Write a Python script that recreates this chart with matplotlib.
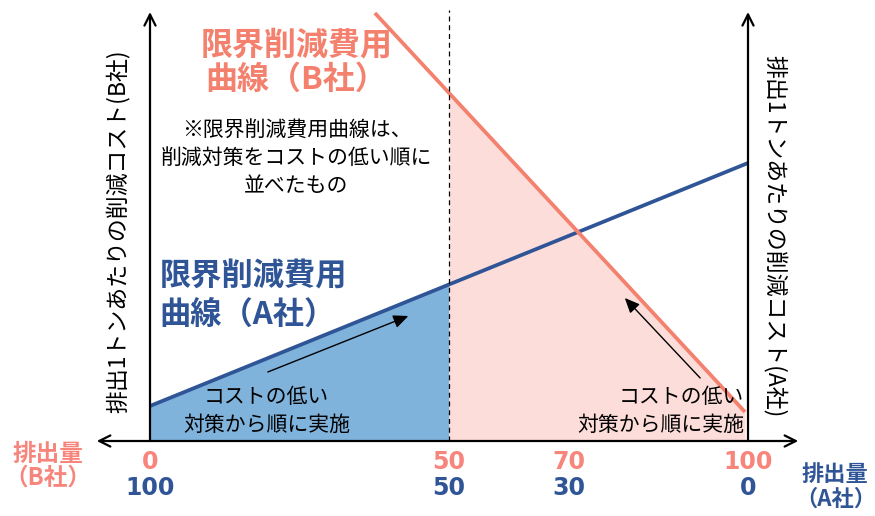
import numpy as np
import matplotlib
matplotlib.use("Agg")
import matplotlib.pyplot as plt

plt.rcParams['font.family'] = ['Noto Sans CJK JP', 'DejaVu Sans']

# 排出量(B社) 0-100 を横軸に取る
blue_x = [0, 100]          # A社の限界削減費用曲線
blue_y = [35, 278]
red_x = [37.6, 99.5]       # B社の限界削減費用曲線
red_y = [428, 29]
split_x = 50               # 各社の排出量の配分点

b_ticks = [0, 50, 70, 100]
b_labels = ['0', '50', '70', '100']
a_labels = ['100', '50', '30', '0']

RED = '#F4806E'
RED_TXT = '#F7857C'
PINK = '#FCDDD9'
BLUE = '#2F5597'
LBLUE = '#7FB3DC'

fig = plt.figure(figsize=(8.75, 5.16), dpi=100)
ax = fig.add_axes([0, 0, 1, 1])
ax.set_xlim(-150 / 5.98, 725 / 5.98)
ax.set_ylim(-75, 441)
ax.axis('off')

# 塗りつぶし
xs = np.linspace(0, split_x, 50)
ax.fill_between(xs, 0, np.interp(xs, blue_x, blue_y), color=LBLUE, lw=0)
xr = np.linspace(split_x, red_x[1], 50)
ax.fill_between(xr, 0, np.interp(xr, red_x, red_y), color=PINK, lw=0)

ax.plot(blue_x, blue_y, color=BLUE, lw=2.7, solid_capstyle='butt')
ax.plot(red_x, red_y, color=RED, lw=2.7, solid_capstyle='butt')
ax.plot([split_x, split_x], [0, 431], color='black', lw=0.9, ls=(0, (4, 3)))

# 軸
arrow = dict(arrowstyle='->,head_length=0.8,head_width=0.4', color='black', lw=1.6,
             shrinkA=0, shrinkB=0)
ax.annotate('', xy=(0, 429), xytext=(0, 0), arrowprops=arrow)
ax.annotate('', xy=(100, 429), xytext=(100, 0), arrowprops=arrow)
ax.annotate('', xy=(108.4, 0), xytext=(-8.9, 0),
            arrowprops=dict(arrowstyle='<->,head_length=0.8,head_width=0.4',
                            color='black', lw=1.6, shrinkA=0, shrinkB=0))

for x, lb_b, lb_a in zip(b_ticks, b_labels, a_labels):
    ax.text(x, -21, lb_b, color=RED_TXT, fontsize=17, fontweight='bold',
            ha='center', va='center', family='DejaVu Sans')
    ax.text(x, -47, lb_a, color=BLUE, fontsize=17, fontweight='bold',
            ha='center', va='center', family='DejaVu Sans')

ax.text(-17, -25, '排出量\n（B社）', color=RED_TXT, fontsize=17, fontweight='bold',
        ha='center', va='center', linespacing=1.0)
ax.text(114.6, -46, '排出量\n（A社）', color=BLUE, fontsize=16, fontweight='bold',
        ha='center', va='center', linespacing=1.1)

ax.text(-5.3, 210, '排出1トンあたりの削減コスト(B社)', rotation=90, fontsize=16.5,
        ha='center', va='center')
ax.text(104.5, 205, '排出1トンあたりの削減コスト(A社)', rotation=270, fontsize=16.5,
        ha='center', va='center')

ax.text(24.5, 378, '限界削減費用\n曲線（B社）', color=RED, fontsize=23, fontweight='bold',
        ha='center', va='center', linespacing=1.1)
ax.text(24.5, 283, '※限界削減費用曲線は、\n削減対策をコストの低い順に\n並べたもの',
        fontsize=15, ha='center', va='center', linespacing=1.38)
ax.text(1.6, 145, '限界削減費用\n曲線（A社）', color=BLUE, fontsize=22.5, fontweight='bold',
        ha='left', va='center', linespacing=1.25)

ax.text(19.5, 30, 'コストの低い\n対策から順に実施', fontsize=15, ha='center', va='center',
        linespacing=1.3)
ax.text(99.3, 30, 'コストの低い\n対策から順に実施', fontsize=15, ha='right', va='center',
        linespacing=1.3)

head = dict(arrowstyle='-|>,head_length=0.9,head_width=0.4', color='black', lw=1.0,
            shrinkA=0, shrinkB=0)
ax.annotate('', xy=(43.2, 125), xytext=(19.7, 69), arrowprops=head)
ax.annotate('', xy=(79.4, 143), xytext=(92, 63), arrowprops=head)

fig.savefig('out.png', dpi=100)
